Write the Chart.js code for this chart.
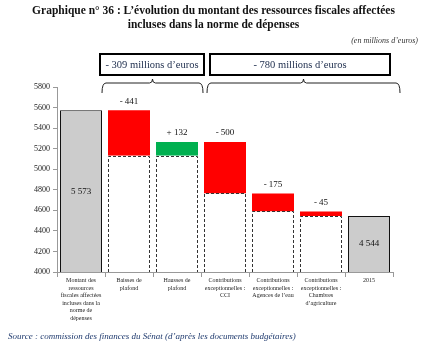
<!DOCTYPE html>
<html>
<head>
<meta charset="utf-8">
<script src="https://cdn.jsdelivr.net/npm/chart.js@4.4.1/dist/chart.umd.min.js"></script>
<style>
  html, body { margin: 0; padding: 0; background: #fff; }
  .wrap { position: relative; width: 427px; height: 352px; overflow: hidden; }
  canvas { position: absolute; left: 0; top: 0; }
  .title { position: absolute; left: 0; top: 3px; width: 427px; text-align: center;
    font: bold 11.5px "Liberation Serif", serif; line-height: 14px; color: #111; }
  .unit { position: absolute; right: 9px; top: 36px; font: italic 8px "Liberation Serif", serif; color: #333; }
  .source { position: absolute; left: 8px; top: 331px; font: italic 9px "Liberation Serif", serif; color: #1f3a6e; }
</style>
</head>
<body>
<div class="wrap">
  <canvas id="chart" width="427" height="352"></canvas>
  <div class="title">Graphique n° 36 : L’évolution du montant des ressources fiscales affectées<br>incluses dans la norme de dépenses</div>
  <div class="unit">(en millions d’euros)</div>
  <div class="source">Source : commission des finances du Sénat (d’après les documents budgétaires)</div>
</div>
<script>
const categories = [
  ['Montant des', 'ressources', 'fiscales affectées', 'incluses dans la', 'norme de', 'dépenses'],
  ['Baisses de', 'plafond'],
  ['Hausses de', 'plafond'],
  ['Contributions', 'exceptionnelles :', 'CCI'],
  ['Contributions', 'exceptionnelles :', 'Agences de l’eau'],
  ['Contributions', 'exceptionnelles :', 'Chambres', 'd’agriculture'],
  ['2015']
];
const totals = [5573, null, null, null, null, null, 4544];
const changes = [null, -441, 132, -500, -175, -45, null];
const yTicks = [4000, 4200, 4400, 4600, 4800, 5000, 5200, 5400, 5600, 5800];
const groups = [
  { label: '- 309 millions d’euros', from: 1, to: 2 },
  { label: '- 780 millions d’euros', from: 3, to: 6 }
];

const yMin = yTicks[0];
const yMax = yTicks[yTicks.length - 1];

// running level of the waterfall
const ghost = [];
const delta = [];
let level = totals[0];
changes.forEach((c) => {
  if (c === null) { ghost.push(null); delta.push(null); return; }
  const next = level + c;
  ghost.push([yMin, Math.min(level, next)]);
  delta.push([Math.min(level, next), Math.max(level, next)]);
  level = next;
});
const totalBars = totals.map(v => v === null ? null : [yMin, v]);
const deltaColors = changes.map(c => c !== null && c > 0 ? '#00b050' : '#ff0000');

const fmt = v => String(v).replace(/\B(?=(\d{3})+(?!\d))/g, ' ');

const serif = '"Liberation Serif", serif';

const waterfallPlugin = {
  id: 'waterfall',
  afterDatasetsDraw(chart) {
    const ctx = chart.ctx;
    const x = chart.scales.x;

    // dashed outline for the hidden part of floating bars
    const ghostMeta = chart.getDatasetMeta(1);
    ctx.save();
    ctx.strokeStyle = '#333';
    ctx.lineWidth = 1;
    ctx.setLineDash([3, 2]);
    ghostMeta.data.forEach((el, i) => {
      if (ghost[i] === null) return;
      const p = el.getProps(['x', 'y', 'base', 'width'], true);
      const l = Math.round(p.x - p.width / 2) + 0.5;
      const r = Math.round(p.x + p.width / 2) - 0.5;
      const t = Math.round(p.y) + 0.5;
      ctx.beginPath();
      ctx.moveTo(l, p.base);
      ctx.lineTo(l, t);
      ctx.lineTo(r, t);
      ctx.lineTo(r, p.base);
      ctx.stroke();
    });
    ctx.restore();

    // value labels
    ctx.save();
    ctx.font = '9px ' + serif;
    ctx.fillStyle = '#111';
    ctx.textAlign = 'center';
    ctx.textBaseline = 'middle';
    chart.getDatasetMeta(0).data.forEach((el, i) => {
      if (totals[i] === null) return;
      const p = el.getProps(['x', 'y', 'base'], true);
      ctx.fillText(fmt(totals[i]), p.x, (p.y + p.base) / 2);
    });
    chart.getDatasetMeta(2).data.forEach((el, i) => {
      if (changes[i] === null) return;
      const p = el.getProps(['x', 'y', 'base'], true);
      const top = Math.min(p.y, p.base);
      const txt = (changes[i] < 0 ? '- ' : '+ ') + fmt(Math.abs(changes[i]));
      ctx.fillText(txt, p.x, top - 9);
    });
    ctx.restore();

    // braces and boxes above groups
    const half = (x.getPixelForValue(1) - x.getPixelForValue(0)) / 2;
    ctx.save();
    groups.forEach((g, gi) => {
      const first = gi === 0;
      const l = x.getPixelForValue(g.from) - half + (first ? -3 : 6);
      const r = x.getPixelForValue(g.to) + half + (first ? 2 : 7);
      const mid = (l + r) / 2;
      const by = 83, bEnd = 93, rad = 4;
      ctx.strokeStyle = '#222';
      ctx.lineWidth = 1;
      ctx.beginPath();
      ctx.moveTo(l, bEnd);
      ctx.quadraticCurveTo(l, by, l + rad, by);
      ctx.lineTo(mid - 3, by);
      ctx.quadraticCurveTo(mid, by, mid, by - 4);
      ctx.quadraticCurveTo(mid, by, mid + 3, by);
      ctx.lineTo(r - rad, by);
      ctx.quadraticCurveTo(r, by, r, bEnd);
      ctx.stroke();

      const boxL = first ? l - 2 : l + 3;
      const boxR = first ? r + 1 : r - 10;
      ctx.lineWidth = 2;
      ctx.strokeStyle = '#000';
      ctx.strokeRect(boxL, 54, boxR - boxL, 21);
      ctx.font = '10.5px ' + serif;
      ctx.fillStyle = '#1a2a4a';
      ctx.textAlign = 'center';
      ctx.textBaseline = 'middle';
      ctx.fillText(g.label, (boxL + boxR) / 2, 65);
    });
    ctx.restore();
  }
};

new Chart(document.getElementById('chart'), {
  type: 'bar',
  data: {
    labels: categories,
    datasets: [
      {
        data: totalBars,
        backgroundColor: '#cccccc',
        borderColor: '#111',
        borderWidth: { left: 1, right: 1, top: 1, bottom: 0 },
        borderSkipped: false
      },
      {
        data: ghost,
        backgroundColor: '#ffffff',
        borderWidth: 0
      },
      {
        data: delta,
        backgroundColor: deltaColors,
        borderWidth: 0
      }
    ]
  },
  options: {
    responsive: false,
    animation: false,
    events: [],
    layout: { padding: { left: 0, top: 87, right: 34, bottom: 0 } },
    datasets: {
      bar: { grouped: false, categoryPercentage: 1, barPercentage: 0.875 }
    },
    plugins: {
      legend: { display: false },
      tooltip: { enabled: false },
      title: { display: false }
    },
    scales: {
      x: {
        grid: { drawOnChartArea: false, color: '#999', tickLength: 5, offset: true },
        border: { color: '#999' },
        ticks: {
          autoSkip: false,
          maxRotation: 0,
          padding: 0,
          color: '#222',
          font: { family: serif, size: 6, lineHeight: 1.25 }
        },
        afterFit(scale) { scale.height = 80; }
      },
      y: {
        min: yMin,
        max: yMax,
        afterBuildTicks(scale) { scale.ticks = yTicks.map(v => ({ value: v })); },
        grid: { drawOnChartArea: false, color: '#999', tickLength: 4 },
        border: { color: '#999' },
        ticks: {
          padding: 3,
          color: '#222',
          font: { family: serif, size: 8 },
          callback: v => String(v)
        },
        afterFit(scale) { scale.width = 57; }
      }
    }
  },
  plugins: [waterfallPlugin]
});
</script>
</body>
</html>
